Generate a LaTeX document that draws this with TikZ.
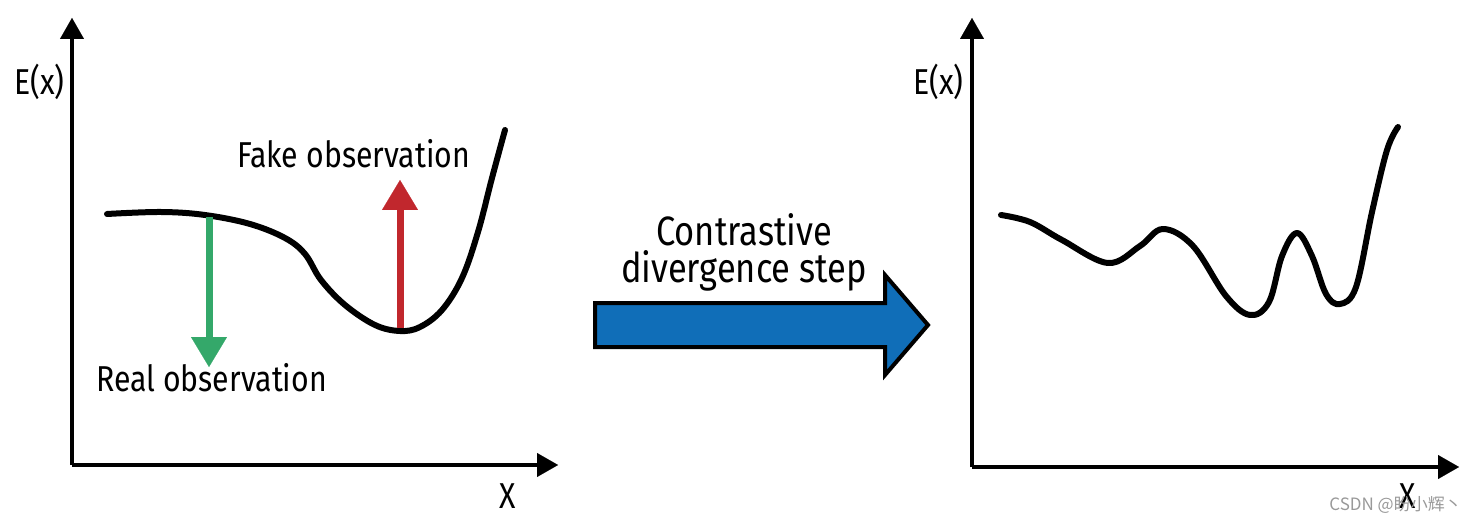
\documentclass[tikz,border=0pt]{standalone}
\usepackage{fontspec}
\setmainfont[FakeStretch=0.84]{Fira Sans}
\newfontfamily\cjkfont{Noto Sans CJK SC}
\usetikzlibrary{arrows.meta}
\definecolor{cdgreen}{HTML}{34A86A}
\definecolor{cdred}{HTML}{C1272D}
\definecolor{cdblue}{HTML}{106EB8}
\tikzset{
  axisline/.style={line width=4pt, -{Triangle[width=24pt,length=21pt,line width=0.1pt]}},
  energy/.style={line width=6pt, line cap=round, line join=round},
  obsarrow/.style={line width=7pt, -{Triangle[width=36pt,length=30pt,line width=0.1pt]}},
  lbl/.style={font=\fontsize{36}{36}\selectfont, inner sep=0pt},
  midlbl/.style={font=\fontsize{41}{41}\selectfont, inner sep=0pt},
  bigarrow/.style={draw=black, line width=4pt, fill=cdblue, line join=miter},
}
\begin{document}
\begin{tikzpicture}[x=1pt,y=-1pt]
\useasboundingbox (0,0) rectangle (1477,521);
% ---------- left plot ----------
\coordinate (Lo) at (72,465);
\coordinate (Ly) at (72,18);
\coordinate (Lx) at (558,465);
\draw[axisline] (Lo) -- (Ly);
\draw[axisline] (Lo) -- (Lx);
\node[lbl, anchor=base west] (LE) at (14,95) {E(x)};
\node[lbl, anchor=base] (LX) at (508,508) {X};
\draw[energy] plot[smooth, tension=0.6] coordinates {
  (107,214) (161,212) (205,215) (250,224) (285,238) (305,254)
  (321,280) (345,305) (375,325) (400,331) (420,327) (442,310)
  (462,278) (478,232) (492,178) (505,130)};
\coordinate (g0) at (209,217);
\coordinate (g1) at (209,367);
\draw[obsarrow, cdgreen] (g0) -- (g1);
\coordinate (r0) at (400,328);
\coordinate (r1) at (400,180);
\draw[obsarrow, cdred] (r0) -- (r1);
\node[lbl, anchor=base west] (fake) at (237,168) {Fake observation};
\node[lbl, anchor=base west] (real) at (96,391) {Real observation};
% ---------- middle arrow ----------
\draw[bigarrow] (595,303) -- (885,303) -- (885,275) -- (928,325) -- (885,375)
  -- (885,347) -- (595,347) -- cycle;
\node[midlbl, anchor=base] (c1) at (744,246) {Contrastive};
\node[midlbl, anchor=base] (c2) at (744,283) {divergence step};
% ---------- right plot ----------
\coordinate (Ro) at (972,467);
\coordinate (Ry) at (972,18);
\coordinate (Rx) at (1459,467);
\draw[axisline] (Ro) -- (Ry);
\draw[axisline] (Ro) -- (Rx);
\node[lbl, anchor=base west] (RE) at (913,95) {E(x)};
\node[lbl, anchor=base] (RX) at (1408,508) {X};
\draw[energy] plot[smooth, tension=0.6] coordinates {
  (1001,215) (1030,222) (1062,240) (1108,263) (1140,246) (1163,229)
  (1193,246) (1226,296) (1250,315) (1269,302) (1282,256) (1297,233)
  (1312,256) (1326,294) (1340,304) (1356,287) (1372,212) (1387,150)
  (1398,127)};
\node[font=\cjkfont\fontsize{17}{17}\selectfont, text=black!40, anchor=base east, inner sep=0pt]
  (wm) at (1462,510) {CSDN @盼小辉丶};
\end{tikzpicture}
\end{document}
